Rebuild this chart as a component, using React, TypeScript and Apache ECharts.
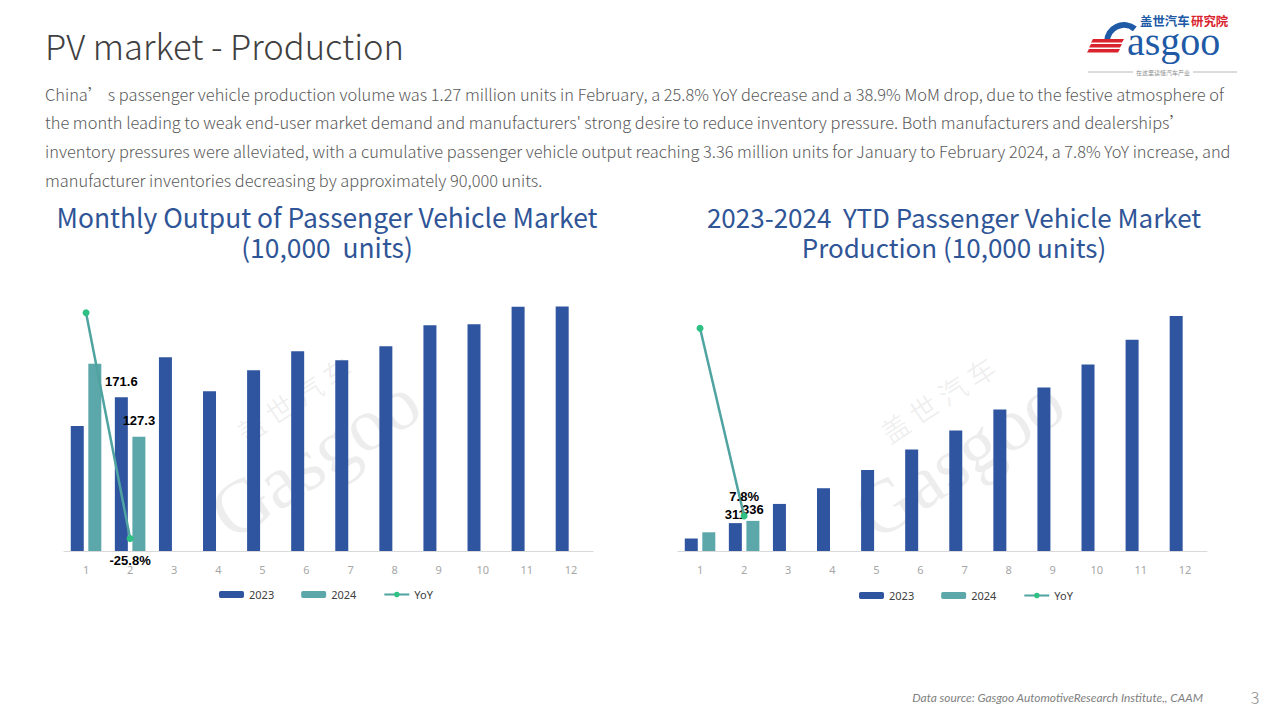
import React, { useEffect, useRef } from "react";
import * as echarts from "echarts";

// ---------------- data ----------------
const months = ["1", "2", "3", "4", "5", "6", "7", "8", "9", "10", "11", "12"];
const seriesNames = ["2023", "2024", "YoY"];

// Monthly output (10,000 units)
const monthly2023 = [139.4, 171.6, 216.0, 178.2, 201.6, 222.7, 212.7, 228.3, 251.7, 252.8, 272.5, 272.8];
const monthly2024 = [208.7, 127.3];
const monthlyYoY = [49.7, -25.8];

// YTD production (10,000 units)
const ytd2023 = [139.4, 311, 525, 700, 904, 1133, 1345, 1578, 1824, 2080, 2355, 2620];
const ytd2024 = [208.7, 336];
const ytdYoY = [49.7, 7.8];

const pageTitle = "PV market - Production";
const bodyLines = [
  "China’ s passenger vehicle production volume was 1.27 million units in February, a 25.8% YoY decrease and a 38.9% MoM drop, due to the festive atmosphere of",
  "the month leading to weak end-user market demand and manufacturers' strong desire to reduce inventory pressure. Both manufacturers and dealerships’",
  "inventory pressures were alleviated, with a cumulative passenger vehicle output reaching 3.36 million units for January to February 2024, a 7.8% YoY increase, and",
  "manufacturer inventories decreasing by approximately 90,000 units.",
];
const leftTitle = ["Monthly Output of Passenger Vehicle Market", "(10,000  units)"];
const rightTitle = ["2023-2024  YTD Passenger Vehicle Market", "Production (10,000 units)"];
const sourceText = "Data source: Gasgoo AutomotiveResearch Institute,, CAAM";
const pageNo = "3";

// ---------------- styles ----------------
const C2023 = "#2F54A0";
const C2024 = "#5BA7AA";
const CLINE = "#4FA3A0";
const CDOT = "#2EC183";
const CJK = "Noto Sans CJK SC";
const WM = "rgba(0,0,0,0.07)";

const labelFont = {
  fontFamily: "Liberation Sans",
  fontWeight: "bold" as const,
  fontSize: 13,
  color: "#000",
};

function withLabel(values: number[], idx: number, label: any) {
  return values.map((v, i) =>
    i === idx ? { value: v, label: { show: true, ...labelFont, ...label } } : v
  );
}

const xAxisBase = {
  type: "category" as const,
  data: months,
  axisLine: { lineStyle: { color: "#D9D9D9", width: 1 } },
  axisTick: { show: false },
  axisLabel: { color: "#A6A6A6", fontSize: 11, margin: 13, fontFamily: "Noto Sans" },
};

const yHidden = (min: number, max: number, gridIndex: number) => ({
  type: "value" as const,
  gridIndex,
  min,
  max,
  show: false,
  splitLine: { show: false },
});

const legendBase = {
  itemWidth: 25,
  itemHeight: 7,
  itemGap: 27,
  textStyle: { color: "#404040", fontSize: 11, fontFamily: "Noto Sans" },
  data: seriesNames,
};

const watermark = (x: number, y: number) => ({
  type: "group",
  x,
  y,
  rotation: 0.58,
  silent: true,
  z: -1,
  children: [
    {
      type: "text",
      x: 0,
      y: -6,
      style: {
        text: "Gasgoo",
        fontSize: 76,
        fontFamily: "Liberation Serif",
        fill: WM,
        textAlign: "center",
        textVerticalAlign: "middle",
      },
    },
    {
      type: "text",
      x: 14,
      y: -66,
      style: {
        text: "盖 世 汽 车",
        fontSize: 28,
        fontFamily: CJK,
        fill: WM,
        textAlign: "center",
        textVerticalAlign: "middle",
      },
    },
  ],
});

const option: any = {
  animation: false,
  backgroundColor: "#ffffff",
  grid: [
    { left: 64, top: 282, width: 529, height: 269 },
    { left: 678, top: 282, width: 529, height: 269 },
  ],
  xAxis: [
    { ...xAxisBase, gridIndex: 0 },
    { ...xAxisBase, gridIndex: 1 },
  ],
  yAxis: [
    yHidden(0, 300, 0),
    yHidden(-30, 60, 0),
    yHidden(0, 3000, 1),
    yHidden(0, 60, 1),
  ],
  legend: [
    { ...legendBase, left: 214, top: 584 },
    { ...legendBase, left: 854, top: 585 },
  ],
  series: [
    {
      name: seriesNames[0],
      type: "bar",
      xAxisIndex: 0,
      yAxisIndex: 0,
      barWidth: 13,
      barGap: "35%",
      itemStyle: { color: C2023 },
      data: withLabel(monthly2023, 1, { position: "top", distance: 9 }),
    },
    {
      name: seriesNames[1],
      type: "bar",
      xAxisIndex: 0,
      yAxisIndex: 0,
      barWidth: 13,
      barGap: "35%",
      itemStyle: { color: C2024 },
      data: withLabel(monthly2024, 1, { position: "top", distance: 10 }),
    },
    {
      name: seriesNames[2],
      type: "line",
      xAxisIndex: 0,
      yAxisIndex: 1,
      symbol: "circle",
      symbolSize: 7,
      lineStyle: { color: CLINE, width: 2.5 },
      itemStyle: { color: CDOT },
      z: 5,
      data: withLabel(monthlyYoY, 1, {
        position: "bottom",
        distance: 12,
        formatter: (p: any) => `${p.value}%`,
      }),
    },
    {
      name: seriesNames[0],
      type: "bar",
      xAxisIndex: 1,
      yAxisIndex: 2,
      barWidth: 13,
      barGap: "35%",
      itemStyle: { color: C2023 },
      data: withLabel(ytd2023, 1, { position: "top", distance: 2 }),
    },
    {
      name: seriesNames[1],
      type: "bar",
      xAxisIndex: 1,
      yAxisIndex: 2,
      barWidth: 13,
      barGap: "35%",
      itemStyle: { color: C2024 },
      data: withLabel(ytd2024, 1, { position: "top", distance: 5 }),
    },
    {
      name: seriesNames[2],
      type: "line",
      xAxisIndex: 1,
      yAxisIndex: 3,
      symbol: "circle",
      symbolSize: 7,
      lineStyle: { color: CLINE, width: 2.5 },
      itemStyle: { color: CDOT },
      z: 5,
      data: withLabel(ytdYoY, 1, {
        position: "top",
        distance: 10,
        formatter: (p: any) => `${p.value}%`,
      }),
    },
  ],
  graphic: [
    watermark(318, 462),
    watermark(962, 462),
    // page title
    {
      type: "text",
      x: 45,
      y: 45,
      style: {
        text: pageTitle,
        fontSize: 34.6,
        fontFamily: CJK,
        fontWeight: 300,
        fill: "#404040",
        textVerticalAlign: "middle",
      },
    },
    // body text
    ...bodyLines.map((t, i) => ({
      type: "text",
      x: 45,
      y: 93.5 + i * 28.7,
      style: {
        text: t,
        fontSize: 16.4,
        fontFamily: CJK,
        fontWeight: 300,
        fill: "#595959",
        textVerticalAlign: "middle",
      },
    })),
    // chart titles
    ...leftTitle.map((t, i) => ({
      type: "text",
      x: 327,
      y: 216 + i * 30,
      style: {
        text: t,
        fontSize: 26.4,
        fontFamily: CJK,
        fill: "#2F5597",
        textAlign: "center",
        textVerticalAlign: "middle",
      },
    })),
    ...rightTitle.map((t, i) => ({
      type: "text",
      x: 954,
      y: 216 + i * 30,
      style: {
        text: t,
        fontSize: 26,
        fontFamily: CJK,
        fill: "#2F5597",
        textAlign: "center",
        textVerticalAlign: "middle",
      },
    })),
    // footer
    {
      type: "text",
      x: 1203,
      y: 697,
      style: {
        text: sourceText,
        fontSize: 11.9,
        fontFamily: "Lato",
        fontStyle: "italic",
        fill: "#7F7F7F",
        textAlign: "right",
        textVerticalAlign: "middle",
      },
    },
    {
      type: "text",
      x: 1255,
      y: 697,
      style: {
        text: pageNo,
        fontSize: 16,
        fontFamily: CJK,
        fontWeight: 300,
        fill: "#8C8C8C",
        textAlign: "center",
        textVerticalAlign: "middle",
      },
    },
    // logo
    {
      type: "arc",
      shape: { cx: 1124, cy: 42, r: 17, startAngle: Math.PI * 1.0, endAngle: Math.PI * 1.72 },
      style: { stroke: "#1F5AA6", lineWidth: 6, fill: "none" },
    },
    ...[0, 1, 2].map((k) => ({
      type: "polygon",
      shape: {
        points: [
          [1093 - k * 2, 39 + k * 5],
          [1124 - k * 2, 39 + k * 5],
          [1122 - k * 2, 42.5 + k * 5],
          [1091 - k * 2, 42.5 + k * 5],
        ],
      },
      style: { fill: "#D9232E" },
    })),
    {
      type: "text",
      x: 1127,
      y: 41,
      style: {
        text: "asgoo",
        fontSize: 40,
        fontFamily: "Liberation Serif",
        fill: "#1F5AA6",
        textVerticalAlign: "middle",
      },
    },
    {
      type: "text",
      x: 1140,
      y: 21,
      style: {
        text: "盖世汽车",
        fontSize: 12.4,
        fontWeight: "bold",
        fontFamily: CJK,
        fill: "#1F5AA6",
        textVerticalAlign: "middle",
      },
    },
    {
      type: "text",
      x: 1191,
      y: 21,
      style: {
        text: "研究院",
        fontSize: 12.4,
        fontWeight: "bold",
        fontFamily: CJK,
        fill: "#D9232E",
        textVerticalAlign: "middle",
      },
    },
    {
      type: "line",
      shape: { x1: 1088, y1: 72, x2: 1133, y2: 72 },
      style: { stroke: "#A6A6A6", lineWidth: 0.8 },
    },
    {
      type: "line",
      shape: { x1: 1193, y1: 72, x2: 1237, y2: 72 },
      style: { stroke: "#A6A6A6", lineWidth: 0.8 },
    },
    {
      type: "text",
      x: 1163,
      y: 72,
      style: {
        text: "在这里读懂汽车产业",
        fontSize: 6,
        fontFamily: CJK,
        fill: "#8C8C8C",
        textAlign: "center",
        textVerticalAlign: "middle",
      },
    },
  ],
};

export default function App() {
  const ref = useRef<HTMLDivElement>(null);
  useEffect(() => {
    if (!ref.current) return;
    const chart = echarts.init(ref.current, null, { renderer: "svg" });
    chart.setOption(option);
    return () => chart.dispose();
  }, []);
  return (
    <div
      ref={ref}
      style={{ position: "fixed", left: 0, top: 0, width: 1280, height: 720, background: "#fff" }}
    />
  );
}
